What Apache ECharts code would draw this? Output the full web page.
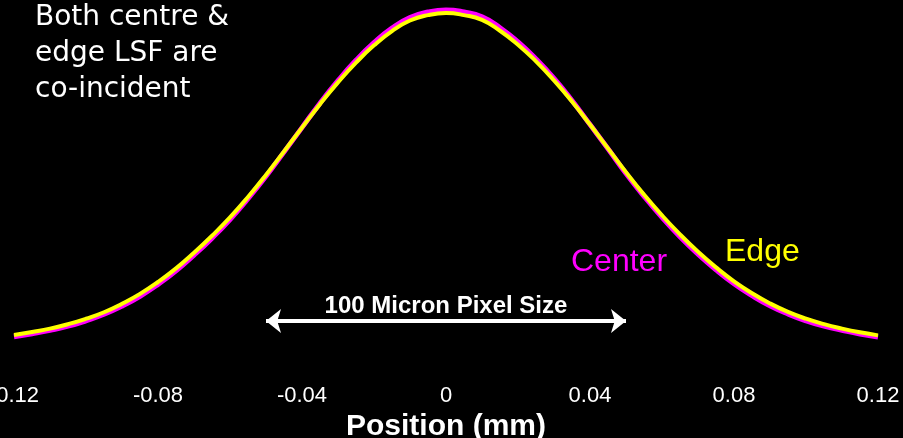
<!DOCTYPE html>
<html>
<head>
<meta charset="utf-8">
<title>LSF centre vs edge</title>
<script src="https://cdn.jsdelivr.net/npm/echarts@6/dist/echarts.min.js"></script>
<style>
  html, body { margin: 0; padding: 0; background: #000; }
  #chart { width: 903px; height: 438px; }
</style>
</head>
<body>
<div id="chart"></div>
<script>
// Position across the detector (mm)
const positions = [
  -0.120, -0.115, -0.110, -0.105, -0.100, -0.095, -0.090, -0.085, -0.080, -0.075,
  -0.070, -0.065, -0.060, -0.055, -0.050, -0.045, -0.040, -0.035, -0.030, -0.025,
  -0.020, -0.015, -0.010, -0.005, 0.000, 0.005, 0.010, 0.015, 0.020, 0.025,
  0.030, 0.035, 0.040, 0.045, 0.050, 0.055, 0.060, 0.065, 0.070, 0.075,
  0.080, 0.085, 0.090, 0.095, 0.100, 0.105, 0.110, 0.115, 0.120
];

// Normalised line spread function measured at the centre
const centerLSF = [
  0.039, 0.048, 0.058, 0.070, 0.086, 0.105, 0.129, 0.158, 0.193, 0.233,
  0.279, 0.329, 0.384, 0.445, 0.511, 0.582, 0.654, 0.726, 0.792, 0.852,
  0.904, 0.947, 0.978, 0.994, 1.000, 0.994, 0.980, 0.948, 0.906, 0.856,
  0.799, 0.734, 0.663, 0.592, 0.519, 0.452, 0.390, 0.333, 0.282, 0.236,
  0.195, 0.160, 0.130, 0.106, 0.086, 0.070, 0.058, 0.047, 0.038
];

// Normalised line spread function measured at the edge
const edgeLSF = [
  0.044, 0.053, 0.063, 0.076, 0.092, 0.111, 0.136, 0.165, 0.200, 0.240,
  0.286, 0.336, 0.390, 0.450, 0.515, 0.584, 0.654, 0.723, 0.787, 0.845,
  0.896, 0.938, 0.969, 0.985, 0.991, 0.985, 0.971, 0.939, 0.898, 0.849,
  0.793, 0.731, 0.663, 0.593, 0.523, 0.457, 0.396, 0.340, 0.289, 0.243,
  0.202, 0.167, 0.137, 0.112, 0.092, 0.076, 0.063, 0.052, 0.043
];

// X axis tick labels
const xTicks = [-0.12, -0.08, -0.04, 0, 0.04, 0.08, 0.12];
const xTickLabels = ['-0.12', '-0.08', '-0.04', '0', '0.04', '0.08', '0.12'];

// Pixel size marker (mm) and its height on the value scale
const pixelSpan = [-0.05, 0.05];
const pixelMarkerLevel = 0.085;

const zip = (xs, ys) => xs.map((x, i) => [x, ys[i]]);

const chart = echarts.init(document.getElementById('chart'), null, { renderer: 'canvas' });

chart.setOption({
  backgroundColor: '#000000',
  animation: false,
  grid: {
    left: 14,
    right: 25,
    top: 10,
    bottom: 88,
    outerBoundsMode: 'none',
    containLabel: false
  },
  xAxis: {
    type: 'value',
    min: xTicks[0],
    max: xTicks[xTicks.length - 1],
    interval: 0.04,
    axisLine: { show: false },
    axisTick: { show: false },
    splitLine: { show: false },
    axisLabel: {
      color: '#ffffff',
      fontFamily: 'Liberation Sans, Arial, sans-serif',
      fontSize: 22,
      margin: 35,
      showMinLabel: true,
      showMaxLabel: true,
      formatter: function (v) {
        const i = xTicks.findIndex(t => Math.abs(t - v) < 1e-9);
        return i >= 0 ? xTickLabels[i] : '';
      }
    },
    name: 'Position (mm)',
    nameLocation: 'middle',
    nameGap: 53,
    nameTextStyle: {
      color: '#ffffff',
      fontFamily: 'Liberation Sans, Arial, sans-serif',
      fontWeight: 'bold',
      fontSize: 30
    }
  },
  yAxis: {
    type: 'value',
    min: 0,
    max: 1,
    show: false
  },
  series: [
    {
      name: 'Center',
      type: 'line',
      data: zip(positions, centerLSF),
      smooth: true,
      showSymbol: false,
      clip: false,
      lineStyle: { color: '#ff00ff', width: 5 },
      z: 2
    },
    {
      name: 'Edge',
      type: 'line',
      data: zip(positions, edgeLSF),
      smooth: true,
      showSymbol: false,
      clip: false,
      lineStyle: { color: '#ffff00', width: 4 },
      z: 3,
      markLine: {
        silent: true,
        symbol: ['arrow', 'arrow'],
        symbolSize: [18, 15],
        lineStyle: { color: '#ffffff', width: 4, type: 'solid' },
        label: {
          show: true,
          position: 'middle',
          distance: 3,
          formatter: '100 Micron Pixel Size',
          color: '#ffffff',
          fontFamily: 'Liberation Sans, Arial, sans-serif',
          fontWeight: 'bold',
          fontSize: 24
        },
        data: [[
          { coord: [pixelSpan[0], pixelMarkerLevel] },
          { coord: [pixelSpan[1], pixelMarkerLevel] }
        ]]
      }
    }
  ],
  graphic: [
    {
      type: 'text',
      left: 35,
      top: 0,
      style: {
        text: 'Both centre &\nedge LSF are\nco-incident',
        fill: '#ffffff',
        font: '28px "DejaVu Sans", Verdana, sans-serif',
        lineHeight: 36
      }
    },
    {
      type: 'text',
      x: 571,
      y: 262,
      style: {
        text: 'Center',
        fill: '#ff00ff',
        font: '32px "Liberation Sans", Arial, sans-serif',
        verticalAlign: 'middle'
      }
    },
    {
      type: 'text',
      x: 725,
      y: 252,
      style: {
        text: 'Edge',
        fill: '#ffff00',
        font: '32px "Liberation Sans", Arial, sans-serif',
        verticalAlign: 'middle'
      }
    }
  ]
});
</script>
</body>
</html>
